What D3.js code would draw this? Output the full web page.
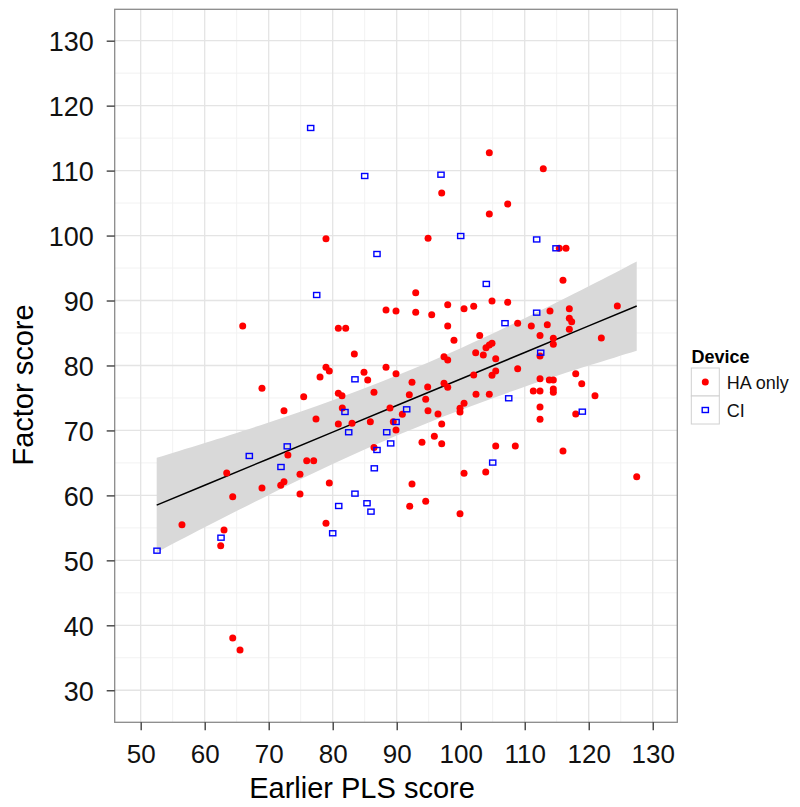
<!DOCTYPE html>
<html>
<head>
<meta charset="utf-8">
<script src="https://cdn.jsdelivr.net/npm/d3@7"></script>
<style>
  html, body { margin: 0; padding: 0; background: #fff; }
  svg { display: block; font-family: "Liberation Sans", Arial, sans-serif; }
</style>
</head>
<body>
<svg id="chart" width="800" height="807"></svg>
<script>
// ---- data ----
const haX = [78.95,104.47,112.9,97.03,107.34,104.47,94.9,88.33,89.89,65.94,80.88,82.03,83.38,78.95,79.47,78.02,88.33,84.89,89.89,85.47,
  68.95,75.47,80.88,81.45,86.45,88.95,72.39,81.5,77.39,80.88,83.02,85.88,89.47,89.89,90.88,86.45,73.0,75.94,77.03,63.44,
  74.89,72.39,71.88,79.47,68.95,64.38,74.89,56.45,78.95,63.02,62.5,64.38,65.52,115.4,116.45,115.98,92.97,104.89,107.34,92.97,
  95.47,97.97,100.52,102.03,113.95,116.97,124.47,116.97,117.34,108.9,111.03,113.53,116.97,97.97,98.95,102.97,112.39,114.47,114.47,121.97,
  104.89,104.47,103.95,102.34,103.53,112.39,97.39,97.97,105.47,108.9,117.97,105.47,104.89,102.03,92.39,94.84,97.39,97.97,112.39,113.84,
  114.47,118.91,114.47,114.47,111.34,112.39,120.98,91.97,94.53,102.39,104.47,100.52,99.89,99.89,94.89,96.45,112.39,117.97,112.39,97.03,
  95.88,93.95,97.03,105.47,108.53,115.98,100.52,103.91,127.5,92.39,92.03,94.53,99.89];
const haY = [99.5,112.76,110.3,106.55,104.86,103.3,99.6,88.54,88.39,86.08,85.73,85.73,81.77,79.72,79.15,78.23,79.72,78.95,78.74,77.77,
  76.49,75.2,75.72,75.35,75.87,73.46,73.04,73.46,71.77,71.0,71.1,71.35,71.35,70.07,72.5,67.39,66.22,65.35,65.35,63.45,
  63.25,62.11,61.56,61.92,61.14,59.8,60.22,55.5,55.7,54.67,52.26,38.05,36.2,98.04,98.04,93.11,91.21,89.93,89.73,88.18,
  87.82,89.36,88.74,89.11,88.39,88.74,89.16,87.26,86.74,86.51,86.08,86.28,85.57,86.08,83.88,84.6,84.6,84.18,83.26,84.23,
  83.42,83.15,82.74,81.97,81.62,81.46,81.35,80.85,81.05,79.5,78.74,79.15,78.49,78.54,77.41,76.69,77.26,76.64,77.97,77.77,
  77.77,77.2,76.38,75.87,76.07,76.07,75.35,75.5,74.8,75.57,75.57,74.18,73.41,72.84,73.04,72.53,73.61,72.53,71.72,71.0,
  69.1,68.18,67.96,67.6,67.6,66.84,63.41,63.6,62.88,61.76,58.32,59.1,57.19];
const ciX = [76.56,85.0,96.92,100.0,111.87,86.92,77.5,83.48,81.92,89.9,82.5,88.44,89.06,86.92,72.9,66.97,71.92,83.48,85.36,80.94,
  85.98,80.0,62.55,52.55,86.5,114.89,104.0,111.87,106.92,112.5,107.5,91.56,119.0,105.0];
const ciY = [116.56,109.17,109.37,99.93,99.4,97.16,90.85,77.87,72.84,71.3,69.72,69.72,68.0,66.99,67.55,66.07,64.37,60.27,58.79,58.37,
  57.5,54.17,53.49,51.49,64.17,98.04,92.55,88.13,86.51,81.97,74.95,73.25,72.89,65.05];
// linear fit and its confidence band
const fitX  = [52.5, 60, 70, 80, 90, 100, 110, 120, 127.5];
const fitY  = [58.5, 61.57, 65.65, 69.74, 73.83, 77.91, 82.0, 86.09, 89.15];
const fitLo = [51.22, 55.08, 60.08, 64.83, 69.22, 73.16, 76.72, 79.98, 82.28];
const fitHi = [65.78, 68.06, 71.22, 74.65, 78.44, 82.66, 87.28, 92.2, 96.02];
const deviceLabels = ["HA only", "CI"];
const xTicks = [50, 60, 70, 80, 90, 100, 110, 120, 130];
const yTicks = [30, 40, 50, 60, 70, 80, 90, 100, 110, 120, 130];
const xMinor = [55, 65, 75, 85, 95, 105, 115, 125];
const yMinor = [35, 45, 55, 65, 75, 85, 95, 105, 115, 125];

// ---- layout ----
const P = { left: 114.7, right: 677.3, top: 9.3, bottom: 722.3 };
const svg = d3.select("#chart");
const x = d3.scaleLinear().domain([45.94, 133.84]).range([P.left, P.right]);
const y = d3.scaleLinear().domain([25.07, 134.83]).range([P.bottom, P.top]);

// grid
const g = svg.append("g");
g.selectAll(".vminor").data(xMinor).enter().append("line")
  .attr("x1", d => x(d)).attr("x2", d => x(d)).attr("y1", P.top).attr("y2", P.bottom)
  .attr("stroke", "#f2f2f2").attr("stroke-width", 1);
g.selectAll(".hminor").data(yMinor).enter().append("line")
  .attr("y1", d => y(d)).attr("y2", d => y(d)).attr("x1", P.left).attr("x2", P.right)
  .attr("stroke", "#f2f2f2").attr("stroke-width", 1);
g.selectAll(".vmajor").data(xTicks).enter().append("line")
  .attr("x1", d => x(d)).attr("x2", d => x(d)).attr("y1", P.top).attr("y2", P.bottom)
  .attr("stroke", "#e4e4e4").attr("stroke-width", 1.3);
g.selectAll(".hmajor").data(yTicks).enter().append("line")
  .attr("y1", d => y(d)).attr("y2", d => y(d)).attr("x1", P.left).attr("x2", P.right)
  .attr("stroke", "#e4e4e4").attr("stroke-width", 1.3);

// ---- fit band and line ----
const idx = d3.range(fitX.length);
svg.append("path").datum(idx)
  .attr("d", d3.area().curve(d3.curveNatural).x(i => x(fitX[i])).y0(i => y(fitLo[i])).y1(i => y(fitHi[i])))
  .attr("fill", "#d9d9d9");
svg.append("path").datum(idx)
  .attr("d", d3.line().x(i => x(fitX[i])).y(i => y(fitY[i])))
  .attr("fill", "none").attr("stroke", "#000").attr("stroke-width", 1.5);

// ---- points ----
svg.append("g").selectAll("circle").data(d3.range(haX.length)).enter().append("circle")
  .attr("cx", i => x(haX[i])).attr("cy", i => y(haY[i])).attr("r", 3.5)
  .attr("fill", "#ff0000");
svg.append("g").selectAll("rect").data(d3.range(ciX.length)).enter().append("rect")
  .attr("x", i => x(ciX[i]) - 3.1).attr("y", i => y(ciY[i]) - 2.5)
  .attr("width", 6.2).attr("height", 5)
  .attr("fill", "none").attr("stroke", "#0000ff").attr("stroke-width", 1.4);

// panel border
svg.append("rect").attr("x", P.left).attr("y", P.top)
  .attr("width", P.right - P.left).attr("height", P.bottom - P.top)
  .attr("fill", "none").attr("stroke", "#8a8a8a").attr("stroke-width", 1.3);

// ---- axes ----
const xAxis = svg.append("g").attr("transform", `translate(0,${P.bottom})`)
  .call(d3.axisBottom(x).tickValues(xTicks).tickSize(8).tickPadding(14).tickFormat(d3.format("d")));
xAxis.select(".domain").remove();
xAxis.selectAll(".tick line").attr("stroke", "#333").attr("stroke-width", 1.3);
xAxis.selectAll(".tick text").attr("font-size", 26).attr("fill", "#111")
  .attr("font-family", "'Liberation Sans', Arial, sans-serif").attr("dy", "0.71em");

const yAxis = svg.append("g").attr("transform", `translate(${P.left},0)`)
  .call(d3.axisLeft(y).tickValues(yTicks).tickSize(8).tickPadding(13).tickFormat(d3.format("d")));
yAxis.select(".domain").remove();
yAxis.selectAll(".tick line").attr("stroke", "#333").attr("stroke-width", 1.3);
yAxis.selectAll(".tick text").attr("font-size", 27).attr("fill", "#111")
  .attr("font-family", "'Liberation Sans', Arial, sans-serif").attr("dy", "0.38em");

// axis titles
svg.append("text").attr("x", 362).attr("y", 798).attr("text-anchor", "middle")
  .attr("font-size", 29).attr("fill", "#000").text("Earlier PLS score");
svg.append("text").attr("transform", "translate(33,385) rotate(-90)").attr("text-anchor", "middle")
  .attr("font-size", 29).attr("fill", "#000").text("Factor score");

// ---- legend ----
const lg = svg.append("g");
lg.append("text").attr("x", 691.5).attr("y", 363).attr("font-size", 18).attr("font-weight", "bold")
  .attr("fill", "#000").text("Device");
const keyH = 28;
deviceLabels.forEach((lab, i) => {
  const ky = 368 + i * keyH;
  lg.append("rect").attr("x", 691.3).attr("y", ky).attr("width", 28).attr("height", keyH)
    .attr("fill", "#fff").attr("stroke", "#d0d0d0").attr("stroke-width", 1);
  if (i === 0) {
    lg.append("circle").attr("cx", 705.3).attr("cy", ky + keyH / 2).attr("r", 3.5).attr("fill", "#ff0000");
  } else {
    lg.append("rect").attr("x", 705.3 - 3.1).attr("y", ky + keyH / 2 - 2.5).attr("width", 6.2).attr("height", 5)
      .attr("fill", "none").attr("stroke", "#0000ff").attr("stroke-width", 1.4);
  }
  lg.append("text").attr("x", 726.7).attr("y", ky + keyH / 2 + 6.5).attr("font-size", 18)
    .attr("fill", "#111").text(lab);
});
</script>
</body>
</html>
